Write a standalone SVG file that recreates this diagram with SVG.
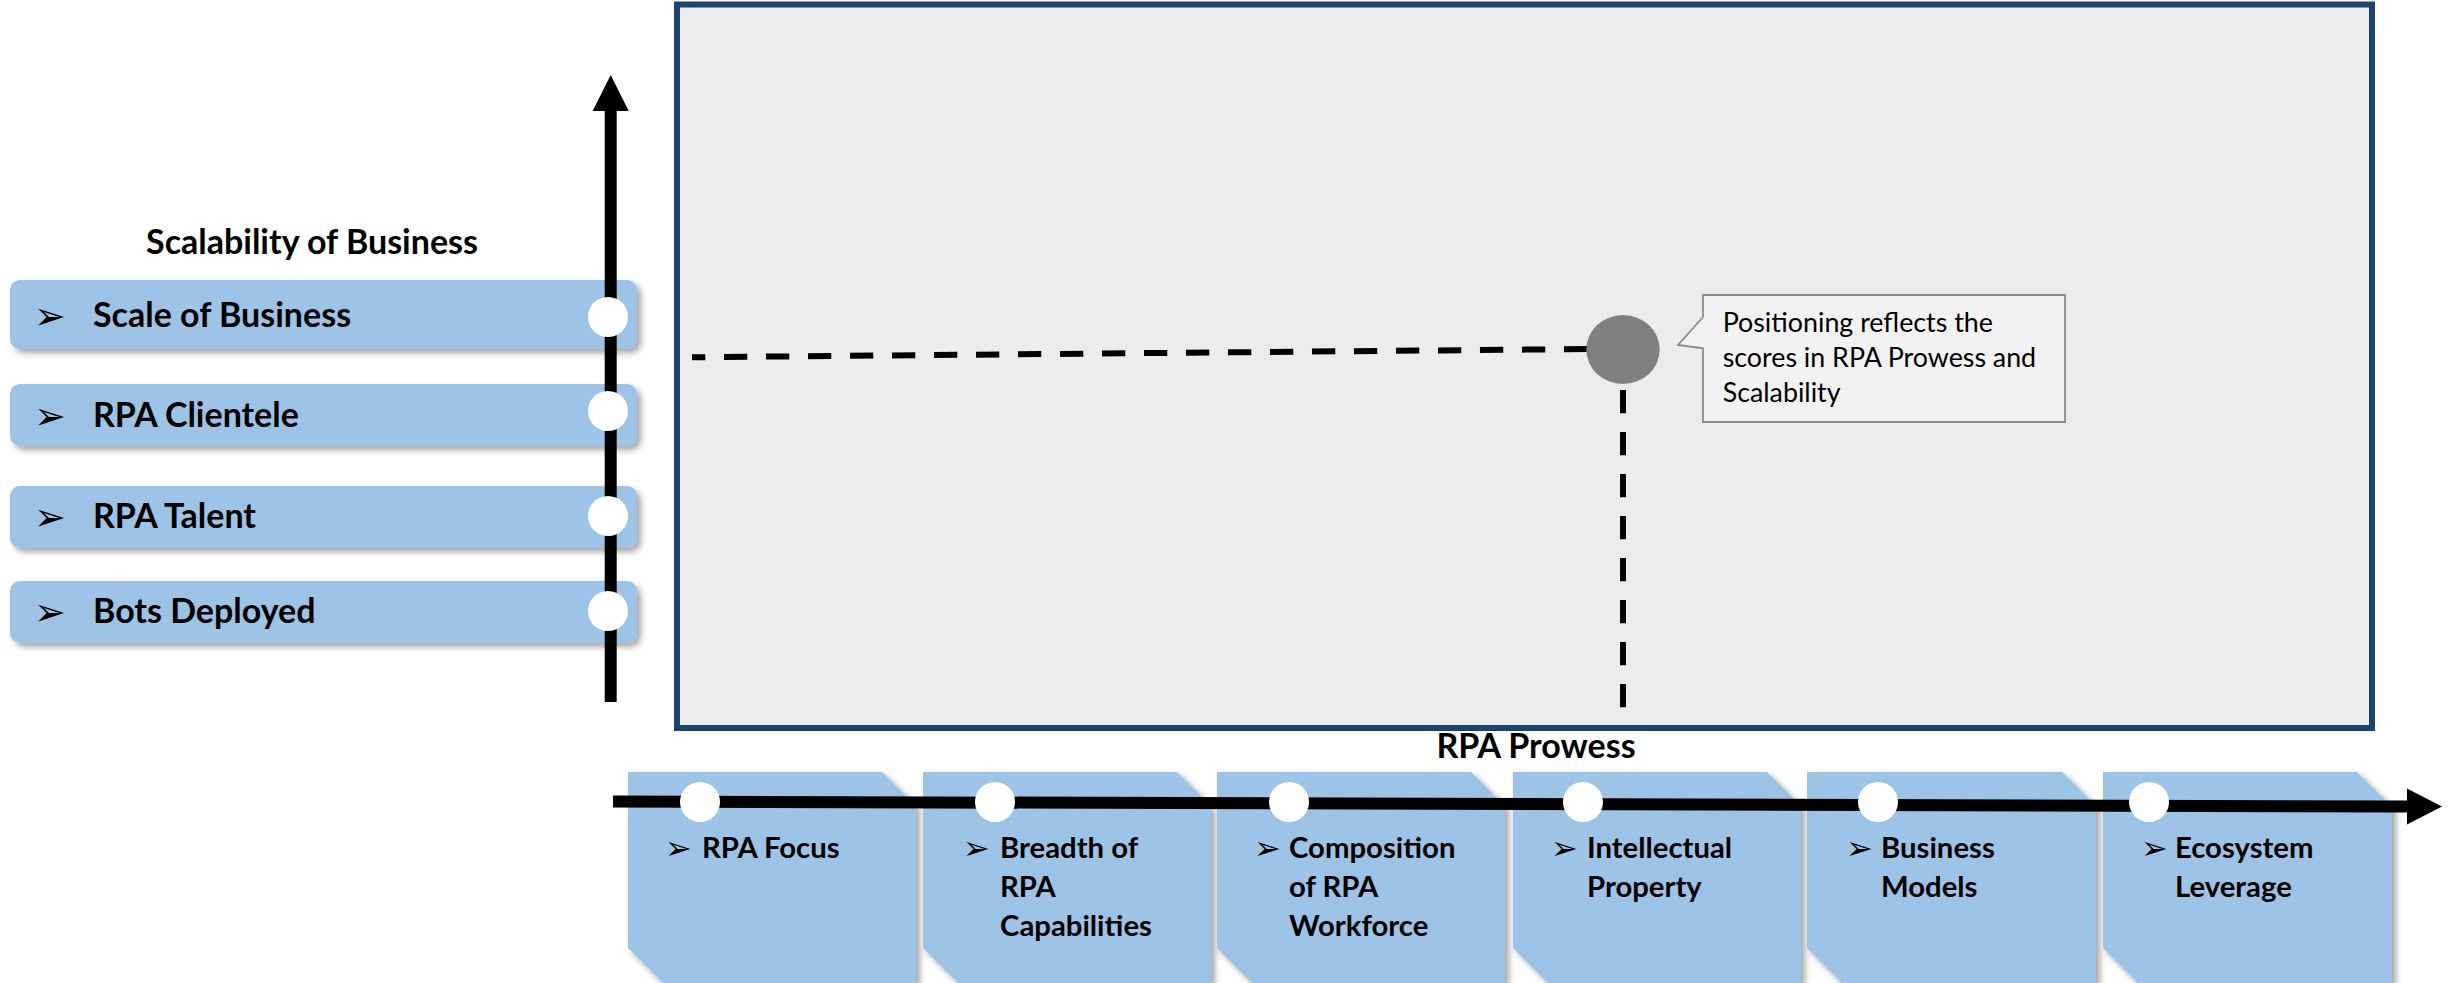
<svg xmlns="http://www.w3.org/2000/svg" width="2456" height="983" viewBox="0 0 2456 983">
<defs>
<style>
.lbox{fill:#9dc3e6;filter:url(#sh);}
.bbox{fill:#9dc3e6;filter:url(#sh);}
.ltxt{font-family:Lato,"Liberation Sans",sans-serif;font-weight:bold;font-size:34px;fill:#000;}
.btxt{font-family:Lato,"Liberation Sans",sans-serif;font-weight:bold;font-size:29.3px;fill:#000;}
.ttl{font-family:Lato,"Liberation Sans",sans-serif;font-weight:bold;font-size:34px;fill:#000;text-anchor:middle;}
.bul{font-family:"DejaVu Sans",sans-serif;font-size:38px;fill:#000;}
.bulb{font-family:"DejaVu Sans",sans-serif;font-size:32px;fill:#000;}
.ctxt{font-family:Lato,"Liberation Sans",sans-serif;font-size:26.8px;fill:#000;}
.dot{fill:#fff;}
.axis{stroke:#000;stroke-width:12;fill:none;}
.dash{stroke:#000;stroke-width:6;fill:none;stroke-dasharray:23.3 18.7;}
</style>
<filter id="sh" x="-5%" y="-5%" width="115%" height="130%">
<feDropShadow dx="4" dy="4" stdDeviation="3" flood-color="#000" flood-opacity="0.35"/>
</filter>
</defs>
<rect width="2456" height="983" fill="#fff"/>
<g id="frame">
<rect x="677" y="4.5" width="1695" height="723.5" fill="#ececec" stroke="#1c426e" stroke-width="6"/>
</g>
<g id="title-scalability"><text class="ttl" x="312" y="254">Scalability of Business</text></g>
<g id="title-prowess"><text class="ttl" x="1536" y="758">RPA Prowess</text></g>
<g id="node-scale">
<rect class="lbox" x="10" y="280" width="627" height="69" rx="10"/>
<text class="bul" x="34" y="329">➢</text>
<text class="ltxt" x="93" y="327">Scale of Business</text>
</g>
<g id="node-clientele">
<rect class="lbox" x="10" y="384" width="627" height="62" rx="10"/>
<text class="bul" x="34" y="429">➢</text>
<text class="ltxt" x="93" y="427">RPA Clientele</text>
</g>
<g id="node-talent">
<rect class="lbox" x="10" y="486" width="627" height="62" rx="10"/>
<text class="bul" x="34" y="530">➢</text>
<text class="ltxt" x="93" y="528">RPA Talent</text>
</g>
<g id="node-bots">
<rect class="lbox" x="10" y="581" width="627" height="62" rx="10"/>
<text class="bul" x="34" y="625">➢</text>
<text class="ltxt" x="93" y="623">Bots Deployed</text>
</g>
<g id="node-focus">
<path class="bbox" d="M628,772 H882 L916,806 V983 H663 L628,948 Z"/>
<text class="bulb" x="665" y="859">➢</text>
<text class="btxt" x="702" y="858">RPA Focus</text>
</g>
<g id="node-breadth">
<path class="bbox" d="M923,772 H1177 L1211,806 V983 H958 L923,948 Z"/>
<text class="bulb" x="963" y="859">➢</text>
<text class="btxt" x="1000" y="858"><tspan x="1000">Breadth of</tspan><tspan x="1000" dy="39">RPA</tspan><tspan x="1000" dy="39">Capabilities</tspan></text>
</g>
<g id="node-composition">
<path class="bbox" d="M1217,772 H1471 L1505,806 V983 H1252 L1217,948 Z"/>
<text class="bulb" x="1254" y="859">➢</text>
<text class="btxt" x="1289" y="858"><tspan x="1289">Composition</tspan><tspan x="1289" dy="39">of RPA</tspan><tspan x="1289" dy="39">Workforce</tspan></text>
</g>
<g id="node-ip">
<path class="bbox" d="M1513,772 H1767 L1801,806 V983 H1548 L1513,948 Z"/>
<text class="bulb" x="1551" y="859">➢</text>
<text class="btxt" x="1587" y="858"><tspan x="1587">Intellectual</tspan><tspan x="1587" dy="39">Property</tspan></text>
</g>
<g id="node-models">
<path class="bbox" d="M1807,772 H2062 L2096,806 V983 H1842 L1807,948 Z"/>
<text class="bulb" x="1846" y="859">➢</text>
<text class="btxt" x="1881" y="858"><tspan x="1881">Business</tspan><tspan x="1881" dy="39">Models</tspan></text>
</g>
<g id="node-ecosystem">
<path class="bbox" d="M2103,772 H2357 L2392,807 V983 H2138 L2103,948 Z"/>
<text class="bulb" x="2141" y="859">➢</text>
<text class="btxt" x="2175" y="858"><tspan x="2175">Ecosystem</tspan><tspan x="2175" dy="39">Leverage</tspan></text>
</g>
<g id="connectors">
<line class="axis" x1="610.7" y1="702" x2="610.7" y2="110"/>
<polygon points="610.7,75 592.7,111 628.7,111" fill="#000"/>
<line class="axis" x1="613" y1="801.5" x2="2408" y2="806.5"/>
<polygon points="2442,806.5 2407,788.5 2407,824.5" fill="#000"/>
<line class="dash" x1="692" y1="357.3" x2="1590" y2="349" stroke-dashoffset="10"/>
<line class="dash" x1="1623" y1="390" x2="1623" y2="708"/>
</g>
<g id="axis-markers">
<circle class="dot" cx="608" cy="317" r="20"/>
<circle class="dot" cx="608" cy="411" r="20"/>
<circle class="dot" cx="608" cy="516" r="20"/>
<circle class="dot" cx="608" cy="611" r="20"/>
<circle class="dot" cx="700" cy="802" r="20"/>
<circle class="dot" cx="995" cy="802" r="20"/>
<circle class="dot" cx="1289" cy="802" r="20"/>
<circle class="dot" cx="1583" cy="802" r="20"/>
<circle class="dot" cx="1878" cy="802" r="20"/>
<circle class="dot" cx="2149" cy="802" r="20"/>
</g>
<g id="position-dot">
<ellipse cx="1623" cy="349.5" rx="36.7" ry="34.5" fill="#808080"/>
</g>
<g id="callout">
<path d="M1703,295 H2065 V422 H1703 V348.3 L1678,345 L1703,317 Z" fill="#f2f2f2" stroke="#8c8c8c" stroke-width="1.8"/>
<text class="ctxt" x="1722.7" y="331.7"><tspan x="1722.7">Positioning reflects the</tspan><tspan x="1722.7" dy="35">scores in RPA Prowess and</tspan><tspan x="1722.7" dy="35">Scalability</tspan></text>
</g>
</svg>
